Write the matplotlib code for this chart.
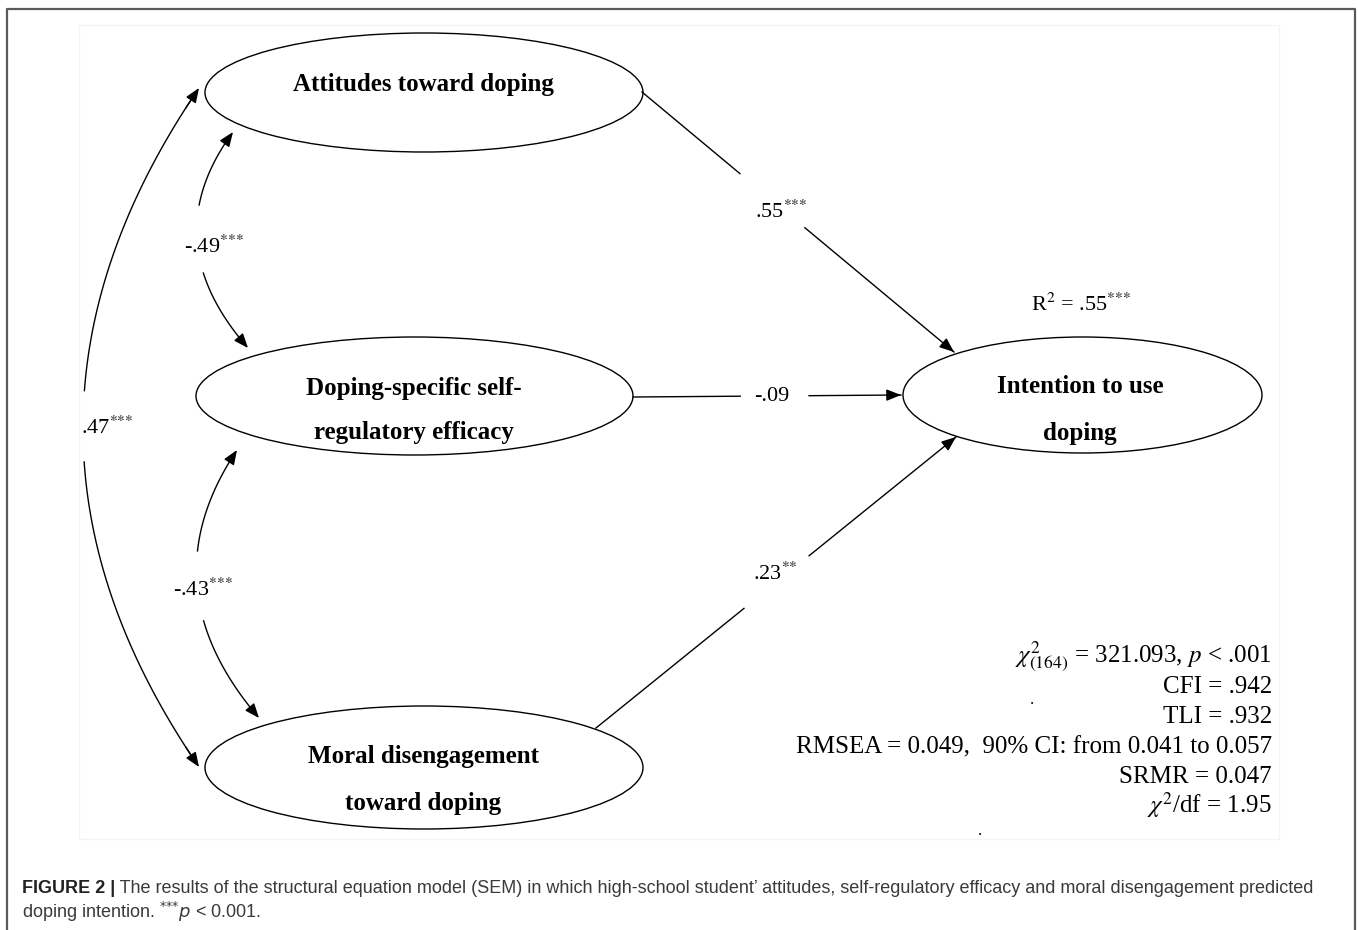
import numpy as np
import matplotlib
matplotlib.use("Agg")
import matplotlib.pyplot as plt
from matplotlib.patches import Ellipse

plt.rcParams['font.family'] = ['Liberation Serif', 'DejaVu Serif']
plt.rcParams['mathtext.fontset'] = 'stix'

# latent variables (label lines)
node_labels = [["Attitudes toward doping"],
               ["Doping-specific self-", "regulatory efficacy"],
               ["Moral disengagement", "toward doping"],
               ["Intention to use", "doping"]]

# structural paths to intention: coefficient, stars
path_coefs = [".55", "-.09", ".23"]
path_stars = ["***", "", "**"]

# covariances between predictors: (att-mor, att-dop, dop-mor)
cov_coefs = [".47", "-.49", "-.43"]
cov_stars = ["***", "***", "***"]

r2_value = ".55"
r2_stars = "***"

fit_lines = [r"$\chi^2_{(164)}$ = 321.093, $p$ < .001",
             "CFI = .942",
             "TLI = .932",
             "RMSEA = 0.049,  90% CI: from 0.041 to 0.057",
             "SRMR = 0.047",
             r"$\chi^2$/df = 1.95"]

caption_bold = "FIGURE 2 |"
caption_1 = (" The results of the structural equation model (SEM) in which high-school "
             "student\u2019 attitudes, self-regulatory efficacy and moral disengagement predicted")
caption_2 = r"doping intention. $^{{*}{*}{*}}p$ < 0.001."

# ---- layout (pixels) ----
node_xy = [(424, 92.5), (414.5, 396), (424, 767.5), (1082.5, 395)]
node_wh = [(438, 119), (437, 118), (438, 123), (359, 116)]
text_x = [423, 414, 423, 1080]
text_y = [[84], [388, 432], [756, 803], [386, 433]]

path_p0 = [(642, 92), (633, 397), (596, 728)]
path_p1 = [(954, 352), (901, 395), (956, 437)]
path_gap = [(0.314, 0.522), (0.40, 0.657), (0.411, 0.592)]
path_lab = [(781, 212), (772, 396), (775, 574)]

cov_p0 = [(199, 88), (233, 132), (237, 450)]
cov_p2 = [(199, 767), (248, 348), (259, 718)]
cov_c = [(-33, 428.5), (153.5, 240), (146, 586)]
cov_gap = [(0.445, 0.55), (0.338, 0.653), (0.373, 0.634)]
cov_lab = [(107, 428), (214, 247), (203, 590)]


def stars_tex(stars):
    # braces keep the asterisks from getting binary-operator spacing
    return r"$^{" + "".join("{*}" for _ in stars) + "}$" if stars else ""


fig = plt.figure(figsize=(13.58, 9.30), dpi=100)
ax = fig.add_axes([0, 0, 1, 1])
ax.set_xlim(0, 1358)
ax.set_ylim(930, 0)
ax.axis('off')

# frame + faint inner image border
ax.plot([7, 7, 1355, 1355], [930, 9, 9, 930], color='#5a5a5a', lw=1.6)
ax.plot([79, 1279, 1279, 79, 79], [25, 25, 839, 839, 25], color='#fcf0f3', lw=1)

arrow_kw = dict(arrowstyle='-|>,head_length=0.55,head_width=0.22', color='k',
                lw=1.0, shrinkA=0, shrinkB=0, mutation_scale=16)


def head(tip, back):
    ax.annotate("", xy=tip, xytext=back, arrowprops=arrow_kw)


def bez(p0, c, p2, t):
    t = np.asarray(t)[:, None]
    return (1 - t) ** 2 * np.array(p0) + 2 * t * (1 - t) * np.array(c) + t ** 2 * np.array(p2)


def label(x, y, coef, stars, size=16):
    ax.text(x, y, coef + stars_tex(stars), ha='center', va='center', fontsize=size)


# ellipses
for (cx, cy), (w, h), lines, tx, tys in zip(node_xy, node_wh, node_labels, text_x, text_y):
    ax.add_patch(Ellipse((cx, cy), w, h, facecolor='white', edgecolor='k', lw=1.0, zorder=2))
    for line, ty in zip(lines, tys):
        ax.text(tx, ty, line, ha='center', va='center', fontsize=18,
                fontweight='bold', zorder=3)

# regression paths
for p0, p1, (g0, g1), (lx, ly), coef, st in zip(path_p0, path_p1, path_gap,
                                                path_lab, path_coefs, path_stars):
    p0 = np.array(p0, float)
    p1 = np.array(p1, float)
    a = p0 + g0 * (p1 - p0)
    b = p0 + g1 * (p1 - p0)
    ax.plot([p0[0], a[0]], [p0[1], a[1]], color='k', lw=1.0)
    ax.plot([b[0], p1[0]], [b[1], p1[1]], color='k', lw=1.0)
    head(tuple(p1), tuple(p1 - 0.03 * (p1 - p0)))
    label(lx, ly, coef, st)

# covariance arcs
for p0, p2, c, (g0, g1), (lx, ly), coef, st in zip(cov_p0, cov_p2, cov_c, cov_gap,
                                                   cov_lab, cov_coefs, cov_stars):
    seg1 = bez(p0, c, p2, np.linspace(0.02, g0, 60))
    seg2 = bez(p0, c, p2, np.linspace(g1, 0.98, 60))
    ax.plot(seg1[:, 0], seg1[:, 1], color='k', lw=1.0)
    ax.plot(seg2[:, 0], seg2[:, 1], color='k', lw=1.0)
    head(p0, tuple(bez(p0, c, p2, [0.03])[0]))
    head(p2, tuple(bez(p0, c, p2, [0.97])[0]))
    label(lx, ly, coef, st)

ax.text(1081, 305, "R$^2$ = " + r2_value + stars_tex(r2_stars),
        ha='center', va='center', fontsize=16)

# fit indices
fit_y = [657, 687, 717, 747, 777, 805]
for line, y in zip(fit_lines, fit_y):
    ax.text(1272, y, line, ha='right', va='center', fontsize=18)

# stray specks in the source image
ax.text(1032, 700, ".", ha='center', va='center', fontsize=12)
ax.text(980, 831, ".", ha='center', va='center', fontsize=12)

# caption
cap_font = ['Liberation Sans', 'DejaVu Sans']
t = ax.text(22, 888, caption_bold, ha='left', va='center', fontsize=13,
            fontweight='bold', family=cap_font, color='#222222')
fig.canvas.draw()
bb = t.get_window_extent().transformed(ax.transData.inverted())
ax.text(bb.x1, 888, caption_1, ha='left', va='center', fontsize=13,
        family=cap_font, color='#3a3a3a')
ax.text(22, 912, caption_2, ha='left', va='center', fontsize=13,
        family=cap_font, color='#3a3a3a', math_fontfamily='dejavusans')

fig.savefig("out.png", dpi=100)
